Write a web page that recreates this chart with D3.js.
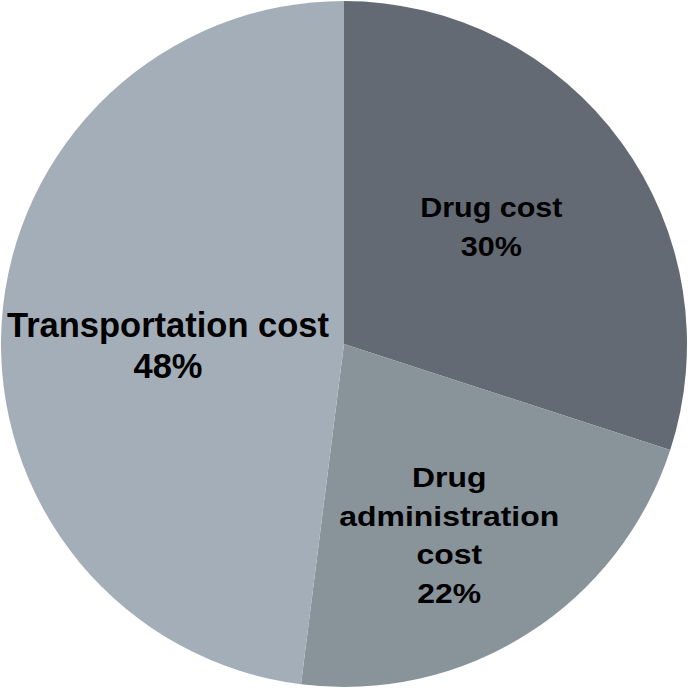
<!DOCTYPE html>
<html><head><meta charset="utf-8">
<script src="https://cdn.jsdelivr.net/npm/d3@7"></script>
<style>html,body{margin:0;padding:0;background:#fff;}svg{display:block;}</style>
</head><body>
<svg id="chart" width="688" height="688"></svg>
<script>
const categories = ["Drug cost", "Drug administration cost", "Transportation cost"];
const values = [30, 22, 48];
const labelLines = [["Drug cost", "30%"], ["Drug", "administration", "cost", "22%"], ["Transportation cost", "48%"]];
const colors = ["#646a73", "#89939a", "#a4aeb9"];

const W = 688, H = 688, R = 343;
const svg = d3.select("#chart");
const g = svg.append("g").attr("transform", `translate(${W/2},${H/2})`);
const pie = d3.pie().sort(null).value(d => d)(values);
const arc = d3.arc().innerRadius(0).outerRadius(R);
g.selectAll("path").data(pie).enter().append("path")
  .attr("d", arc).attr("fill", (d,i) => colors[i]);

const labelStyle = [
  {r: 0.52, dx: 3, dy: -13, fs: 28.5, sx: 1.07, lh: 39},
  {r: 0.60, dx: -5, dy: 17, fs: 28.5, sx: 1.12, lh: 38.7},
  {r: 0.52, dx: 2, dy: 12, fs: 34.5, sx: 1.0, lh: 41}
];
pie.forEach((d, i) => {
  const s = labelStyle[i];
  const a = (d.startAngle + d.endAngle) / 2;
  const r = R * s.r;
  const cx = Math.sin(a) * r + s.dx, cy = -Math.cos(a) * r + s.dy;
  const lines = labelLines[i];
  const t = g.append("g").attr("transform", `translate(${cx},${cy}) scale(${s.sx},1)`)
    .append("text").attr("text-anchor", "middle")
    .attr("font-family", "Liberation Sans, Arial, sans-serif")
    .attr("font-weight", "bold").attr("font-size", s.fs).attr("fill", "#000");
  lines.forEach((ln, j) => {
    t.append("tspan").attr("x", 0).attr("y", (j - (lines.length - 1) / 2) * s.lh + s.fs * 0.358).text(ln);
  });
});
</script>
</body></html>
